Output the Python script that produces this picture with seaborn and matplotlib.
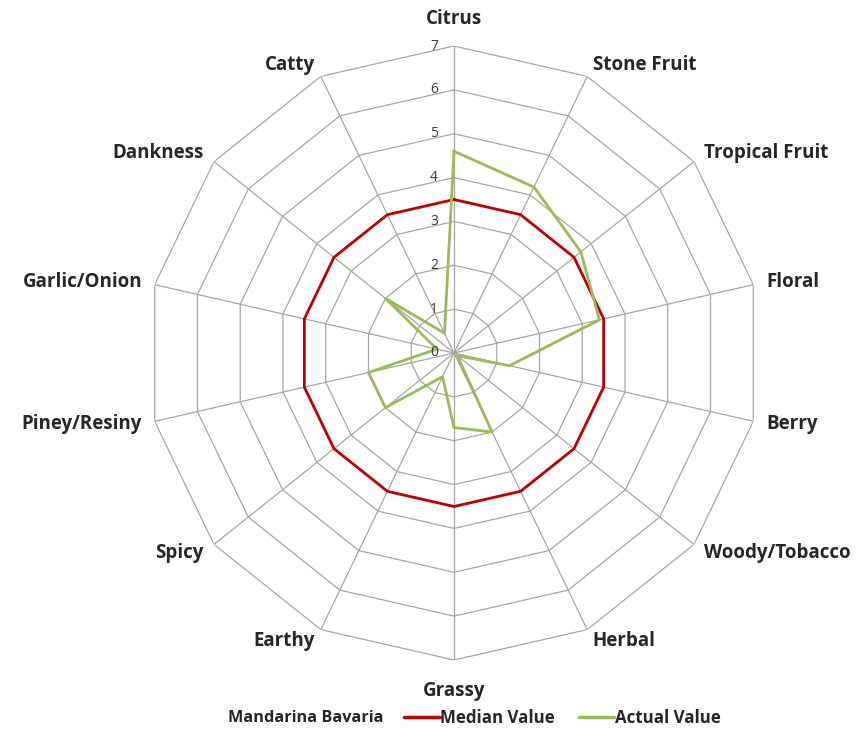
import numpy as np
import pandas as pd
import matplotlib
matplotlib.use("Agg")
import matplotlib.pyplot as plt
import seaborn as sns
from matplotlib.lines import Line2D

# Aroma profile of the hop variety
categories = ["Citrus", "Stone Fruit", "Tropical Fruit", "Floral", "Berry",
              "Woody/Tobacco", "Herbal", "Grassy", "Earthy", "Spicy",
              "Piney/Resiny", "Garlic/Onion", "Dankness", "Catty"]
median_values = [3.5, 3.5, 3.5, 3.5, 3.5, 3.5, 3.5, 3.5, 3.5, 3.5, 3.5, 3.5, 3.5, 3.5]
actual_values = [4.6, 4.2, 3.7, 3.4, 1.3, 0.1, 2.0, 1.7, 0.6, 2.0, 2.0, 0.4, 2.0, 0.5]
scale_ticks = [0, 1, 2, 3, 4, 5, 6, 7]
variety = "Mandarina Bavaria"
series_names = ["Median Value", "Actual Value"]

sns.set_theme(style="white")
plt.rcParams["font.family"] = ["Open Sans", "DejaVu Sans"]

RED = "#C00000"
GREEN = "#9BBB59"
GRID = "#A6A6A6"
TEXT = "#262626"

n = len(categories)
theta = np.arange(n) * 2 * np.pi / n
theta_closed = np.append(theta, theta[0])

rows = []
for name, vals in zip(series_names, [median_values, actual_values]):
    closed = list(vals) + [vals[0]]
    for i, (t, v) in enumerate(zip(theta_closed, closed)):
        rows.append({"series": name, "order": i, "theta": t, "value": v})
df = pd.DataFrame(rows)

W, H = 863, 732
fig = plt.figure(figsize=(W / 100, H / 100), dpi=100)
cx, cy, R = 454, 353, 307
ax = fig.add_axes([(cx - R) / W, (H - cy - R) / H, 2 * R / W, 2 * R / H],
                  projection="polar")
ax.set_theta_zero_location("N")
ax.set_theta_direction(-1)
ax.set_ylim(0, scale_ticks[-1])
ax.grid(False)
ax.spines["polar"].set_visible(False)
ax.set_xticks([])
ax.set_yticks([])
ax.patch.set_alpha(0)

# polygonal web
for lvl in scale_ticks[1:]:
    ax.plot(theta_closed, [lvl] * len(theta_closed), color=GRID, lw=0.9, zorder=1)
for t in theta:
    ax.plot([t, t], [0, scale_ticks[-1]], color=GRID, lw=0.9, zorder=1)

palette = {"Median Value": RED, "Actual Value": GREEN}
for name in series_names:
    sub = df[df["series"] == name]
    sns.lineplot(data=sub, x="theta", y="value", ax=ax, sort=False,
                 estimator=None, color=palette[name], lw=2.0, zorder=3,
                 legend=False)
ax.set_xlabel("")
ax.set_ylabel("")
ax.set_ylim(0, scale_ticks[-1])

# radial scale labels
for lvl in scale_ticks:
    ax.annotate(str(lvl), xy=(0, lvl), xytext=(-16, 0), textcoords="offset pixels",
                ha="right", va="center", fontsize=10, color="#3a3a3a", zorder=4)

# category labels
for t, lab in zip(theta, categories):
    s, c = np.sin(t), np.cos(t)
    d = 13
    if abs(s) < 0.05:
        ha = "center"
        va = "bottom" if c > 0 else "top"
        d = 17 if c > 0 else 21
    else:
        ha = "left" if s > 0 else "right"
        va = "center"
    ax.annotate(lab, xy=(t, scale_ticks[-1]), xytext=(s * d, c * d),
                textcoords="offset pixels", ha=ha, va=va, fontsize=13.5,
                fontweight="bold", color=TEXT, annotation_clip=False)

# legend
fig.text(228 / W, 1 - 718 / H, variety, ha="left", va="center", fontsize=11.7,
         fontweight="bold", color=TEXT)
handles = [Line2D([], [], color=palette[nm], lw=2.5) for nm in series_names]
leg = fig.legend(handles, series_names, loc="center left", ncol=2, frameon=False,
                 bbox_to_anchor=(404 / W, 1 - 718 / H), handlelength=2.1,
                 handletextpad=0.05, columnspacing=1.4, borderpad=0, borderaxespad=0,
                 prop={"size": 12.2, "weight": "bold"})
for txt in leg.get_texts():
    txt.set_color(TEXT)

fig.savefig("out.png", dpi=100, facecolor="white")
